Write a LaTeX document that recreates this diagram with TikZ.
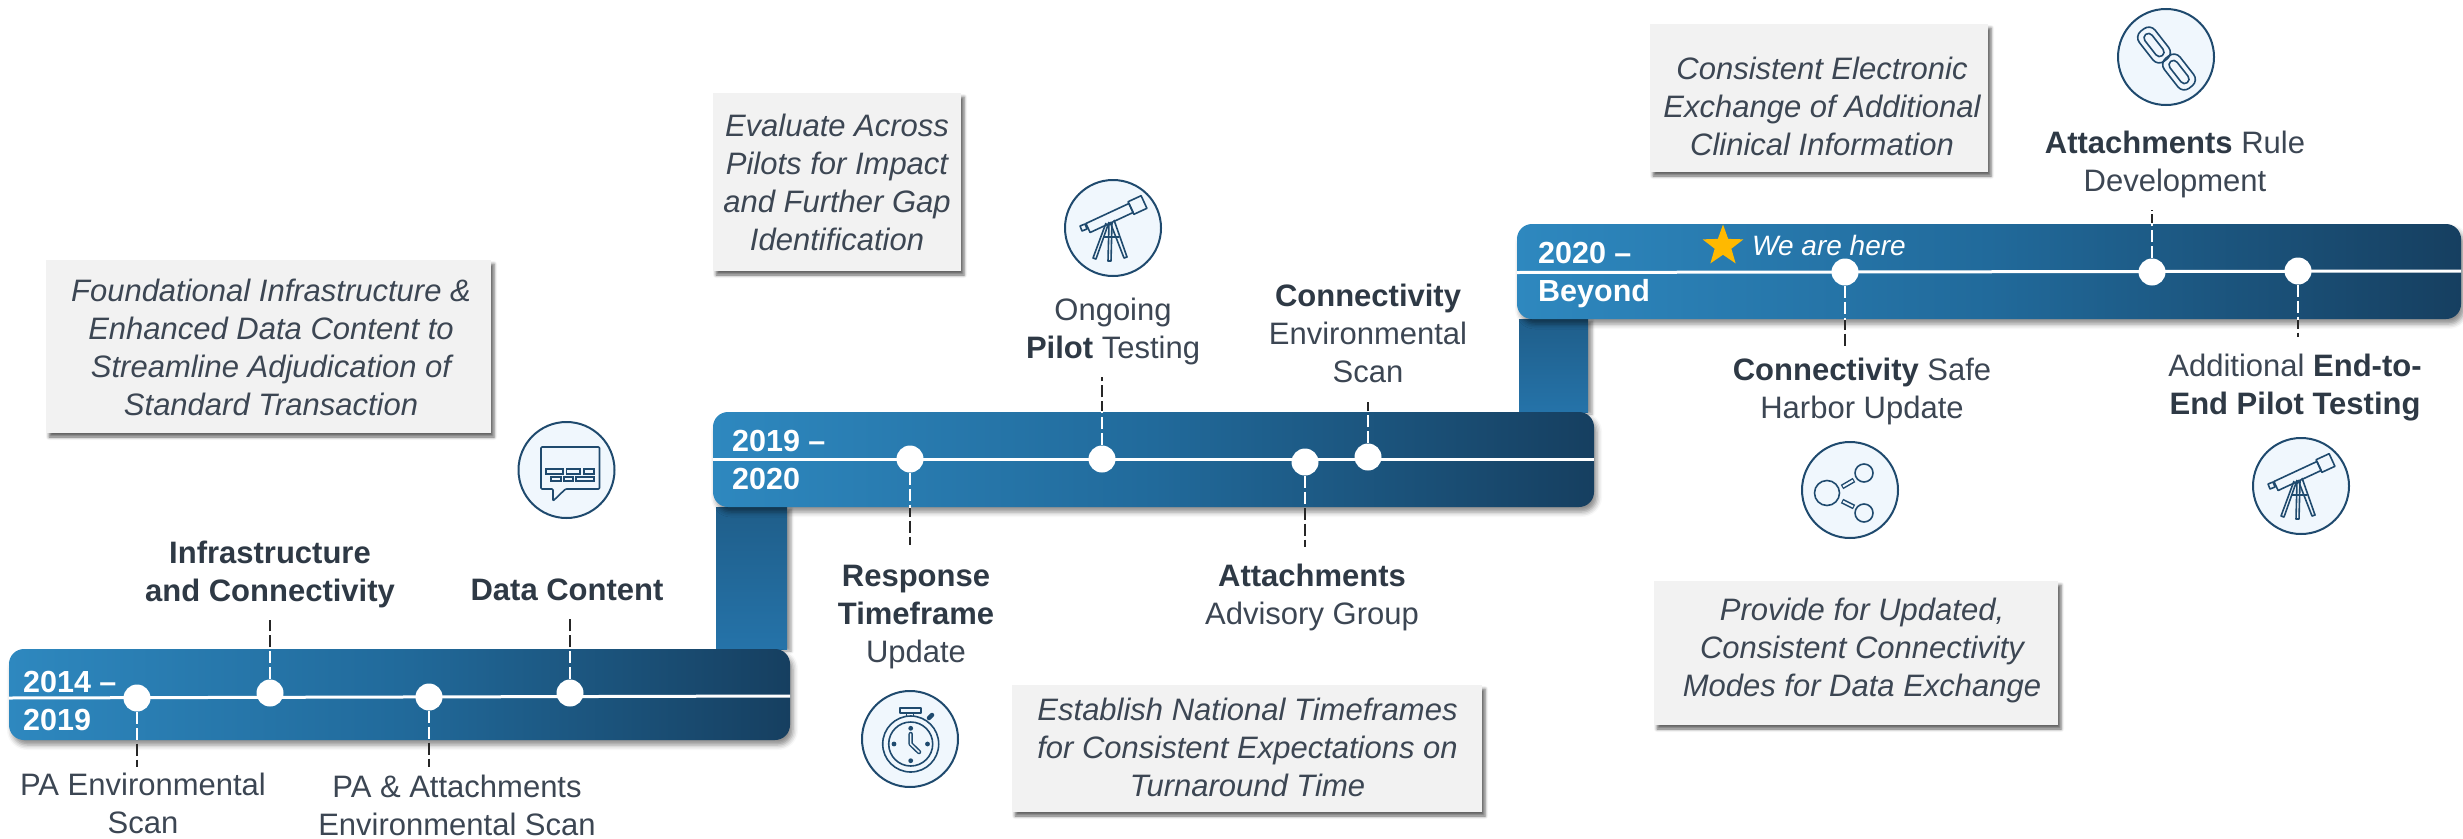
\documentclass[tikz,border=0pt]{standalone}
\usepackage{fontspec}
\setmainfont{Liberation Sans}
\usetikzlibrary{shadows.blur,shapes.geometric,calc}
\definecolor{txt}{HTML}{3C4653}
\definecolor{txtb}{HTML}{2E3945}
\definecolor{ink}{HTML}{1F4A6E}
\definecolor{iconfill}{HTML}{F0F7FD}
\definecolor{bandL}{HTML}{2E88BF}
\definecolor{bandM}{HTML}{216A9B}
\definecolor{bandR}{HTML}{163F60}
\definecolor{riserT}{HTML}{1F5E8A}
\definecolor{riserB}{HTML}{2573A9}
\definecolor{boxfill}{HTML}{F2F2F2}
\definecolor{starc}{HTML}{FFB900}
\tikzset{
  x=1pt,y=-1pt,
  band/.style={rectangle,rounded corners=15pt,inner sep=0pt,left color=bandL,right color=bandR,middle color=bandM,
    blur shadow={shadow xshift=3pt,shadow yshift=-5pt,shadow blur radius=5pt,shadow opacity=45}},
  riser/.style={rectangle,inner sep=0pt,top color=riserT,bottom color=riserB,
    blur shadow={shadow xshift=4pt,shadow yshift=-2pt,shadow blur radius=3pt,shadow opacity=40}},
  infobox/.style={rectangle,inner sep=0pt,fill=boxfill,
    blur shadow={shadow xshift=3pt,shadow yshift=-4pt,shadow blur radius=3pt,shadow opacity=60}},
  infotext/.style={inner sep=0pt,align=center,text=txt,font=\fontsize{31}{38}\selectfont\itshape},
  lab/.style={inner sep=0pt,align=center,text=txt,anchor=base,font=\fontsize{31}{38}\selectfont},
  yr/.style={inner sep=0pt,align=left,text=white,anchor=base west,font=\fontsize{30.5}{38}\selectfont\bfseries},
  dot/.style={circle,fill=white,inner sep=0pt,minimum size=27pt},
  whiteline/.style={white,line width=3pt},
  dashblack/.style={black!85,line width=2.2pt,dash pattern=on 12pt off 4pt},
  dashwhite/.style={white,line width=2.2pt,dash pattern=on 12pt off 4pt},
  badge/.style={circle,draw=ink,fill=iconfill,line width=2pt,inner sep=0pt,minimum size=96pt},
  gl/.style={draw=ink,line width=1.6pt,line join=round},
  pics/iconScope/.style={code={
    \draw[gl] (-22.9,4.5)--(-27.1,-4.5)--(15.9,-24.5)--(20.1,-15.5)--cycle;
    \draw[gl] (20.9,-13.7)--(15.1,-26.3)--(28.1,-32.3)--(33.9,-19.7)--cycle;
    \draw[gl] (-33,-2)--(-28,-4)--(-26,1)--(-31,3)--cycle;
    \draw[gl] (-7,-5)--(-20,30)--(-17,31)--(-4,-6);
    \draw[gl] (-3,-6)--(11,30)--(14,29)--(1,-8);
    \draw[gl] (-4,-5)--(-5,33)--(-2,33)--(-1,-6);
    \draw[gl] (-10,9)--(6,9);
  }},
  pics/iconWatch/.style={code={
    \draw[gl] (.7,5) circle[radius=28];
    \draw[gl] (.7,5) circle[radius=22];
    \draw[gl] (-10,-31) rectangle (11,-26);
    \draw[gl] (-3.5,-26)--(-3.5,-22);
    \draw[gl] (3.5,-26)--(3.5,-22);
    \draw[ink,line width=4.5pt,line cap=round] (19,-21)--(22,-24);
    \fill[ink] (.7,-10.7) circle[radius=2.4] (-16,5) circle[radius=2.4] (17.5,5) circle[radius=2.4] (.7,21.7) circle[radius=2.4];
    \draw[ink,line width=4.5pt,line join=round,line cap=round] (.7,-5)--(.7,5)--(9,13);
    \draw[iconfill,line width=1.5pt,line join=round,line cap=round] (.7,-5)--(.7,5)--(9,13);
  }},
  pics/iconLink/.style={code={
    \draw[gl,rounded corners=8pt] (-19,-10) rectangle (19,10);
    \draw[gl,rounded corners=4.5pt] (-13.5,-4.5) rectangle (13.5,4.5);
  }},
  pics/iconShare/.style={code={
    \draw[gl] (-23,3) circle[radius=12.5];
    \draw[gl] (14,-17) circle[radius=9];
    \draw[gl] (14,23) circle[radius=9];
    \draw[ink,line width=5pt] (-8,-3)--(4,-10);
    \draw[iconfill,line width=2pt] (-7,-3.6)--(3,-9.4);
    \draw[ink,line width=5pt] (-8,11)--(4,17);
    \draw[iconfill,line width=2pt] (-7,11.5)--(3,16.5);
  }},
  pics/iconChat/.style={code={
    \draw[gl,rounded corners=1pt] (-25.5,-23)--(33,-23)--(33,19)--(-1,19)--(-13.5,31)--(-13.5,19)--(-25.5,19)--cycle;
    \foreach \a/\b in {-20.5/-3.5,0/13.5,17.5/27.5}{\draw[ink,line width=1.2pt] (\a,-1) rectangle (\b,4);}
    \foreach \a/\b in {-15.5/-5.5,-2.5/6.5,9.5/27.5}{\draw[ink,line width=1.2pt] (\a,7) rectangle (\b,11);}
  }},
}
\begin{document}
\begin{tikzpicture}
\useasboundingbox (0,0) rectangle (2463,838);

% risers
\node[riser,minimum width=71pt,minimum height=142pt] (r1) at (751.5,578) {};
\node[riser,minimum width=69pt,minimum height=93pt] (r2) at (1553.5,365.5) {};

% info boxes
\node[infobox,minimum width=445pt,minimum height=173pt] (boxA) at (268.5,346.5) {};
\node[infobox,minimum width=248pt,minimum height=178pt] (boxB) at (837,182) {};
\node[infobox,minimum width=470pt,minimum height=127pt] (boxC) at (1247,748.5) {};
\node[infobox,minimum width=338pt,minimum height=148pt] (boxD) at (1819,98) {};
\node[infobox,minimum width=404pt,minimum height=144pt] (boxE) at (1856,653) {};
\node[infotext] (tA) at (271,347) {Foundational Infrastructure \&\\Enhanced Data Content to\\Streamline Adjudication of\\Standard Transaction};
\node[infotext] (tB) at (837,182) {Evaluate Across\\Pilots for Impact\\and Further Gap\\Identification};
\node[infotext] (tC) at (1247.5,747) {Establish National Timeframes\\for Consistent Expectations on\\Turnaround Time};
\node[infotext] (tD) at (1822,106) {Consistent Electronic\\Exchange of Additional\\Clinical Information};
\node[infotext] (tE) at (1862,650) {Provide for Updated,\\Consistent Connectivity\\Modes for Data Exchange};

% bands
\node[band,minimum width=781pt,minimum height=91pt] (b1) at (399.5,694.5) {};
\node[band,minimum width=881pt,minimum height=95pt] (b2) at (1153.5,459.5) {};
\node[band,minimum width=944pt,minimum height=95pt] (b3) at (1989,271.5) {};

% timeline dots
\node[dot] (d1) at (137,698) {};
\node[dot] (d2) at (270,693) {};
\node[dot] (d3) at (429,697) {};
\node[dot] (d4) at (570,693) {};
\node[dot] (d5) at (910,459) {};
\node[dot] (d6) at (1102,459) {};
\node[dot] (d7) at (1305,462) {};
\node[dot] (d8) at (1368,457) {};
\node[dot] (d9) at (1845,272) {};
\node[dot] (d10) at (2152,272) {};
\node[dot] (d11) at (2298,271) {};

% free ends of the connectors
\coordinate (e1) at (137,767);
\coordinate (e2) at (270,620);
\coordinate (e3) at (429,767);
\coordinate (e4) at (570,619);
\coordinate (e5) at (910,545);
\coordinate (e6) at (1102,377);
\coordinate (e7) at (1305,547);
\coordinate (e8) at (1368,402);
\coordinate (e9) at (1845,349);
\coordinate (e10) at (2152,210);
\coordinate (e11) at (2298,337);

% connectors: black outside the band, white over it
\foreach \i in {1,...,11}{\draw[dashblack] (d\i) -- (e\i);}
\begin{scope}
  \clip (b1.south west) rectangle (b1.north east);
  \foreach \i in {1,...,4}{\draw[dashwhite] (d\i) -- (e\i);}
\end{scope}
\begin{scope}
  \clip (b2.south west) rectangle (b2.north east);
  \foreach \i in {5,...,8}{\draw[dashwhite] (d\i) -- (e\i);}
\end{scope}
\begin{scope}
  \clip (b3.south west) rectangle (b3.north east);
  \foreach \i in {9,10,11}{\draw[dashwhite] (d\i) -- (e\i);}
\end{scope}

% white lines along the bands
\draw[whiteline] (b1.west |- 0,698) -- (b1.east |- 0,696);
\draw[whiteline] (b2.west |- 0,459) -- (b2.east |- 0,459);
\draw[whiteline] (b3.west |- 0,272.5) -- (b3.east |- 0,271);

% year labels
\node[yr] (y1a) at (23,692) {2014 –};
\node[yr] (y1b) at (23,730) {2019};
\node[yr] (y2a) at (732,451) {2019 –};
\node[yr] (y2b) at (732,489) {2020};
\node[yr] (y3a) at (1538,263) {2020 –};
\node[yr] (y3b) at (1538,301) {Beyond};

\node[star,star points=5,star point ratio=2.45,fill=starc,inner sep=0pt,minimum size=43pt] (star) at (1723,246) {};
\node[inner sep=0pt,anchor=base west,text=white,font=\fontsize{28}{34}\selectfont\itshape] (here) at (1752,255) {We are here};

% milestone labels (anchored at the baseline of the last line)
\node[lab] (l2) at (270,601) {\textbf{\color{txtb}Infrastructure}\\\textbf{\color{txtb}and Connectivity}};
\node[lab] (l4) at (567,600) {\textbf{\color{txtb}Data Content}};
\node[lab] (l1) at (143,833) {PA Environmental\\Scan};
\node[lab] (l3) at (457,835) {PA \& Attachments\\Environmental Scan};
\node[lab] (l5) at (916,662) {\textbf{\color{txtb}Response}\\\textbf{\color{txtb}Timeframe}\\Update};
\node[lab] (l7) at (1312,624) {\textbf{\color{txtb}Attachments}\\Advisory Group};
\node[lab] (l6) at (1113,358) {Ongoing\\\textbf{\color{txtb}Pilot} Testing};
\node[lab] (l8) at (1368,382) {\textbf{\color{txtb}Connectivity}\\Environmental\\Scan};
\node[lab] (l10) at (2175,191) {\textbf{\color{txtb}Attachments} Rule\\Development};
\node[lab] (l9) at (1862,418) {\textbf{\color{txtb}Connectivity} Safe\\Harbor Update};
\node[lab] (l11) at (2295,414) {Additional \textbf{\color{txtb}End-to-}\\\textbf{\color{txtb}End Pilot Testing}};

% icons
\node[badge] (i1) at (566.5,470) {};
\pic at (i1.center) {iconChat};
\node[badge] (i2) at (1113,228) {};
\pic at (i2.center) {iconScope};
\node[badge] (i3) at (910,739) {};
\pic at (i3.center) {iconWatch};
\node[badge] (i4) at (2166,57) {};
\pic[rotate=-52] at (2154,45) {iconLink};
\pic[rotate=-52] at (2179,72) {iconLink};
\node[badge] (i5) at (1850,490) {};
\pic at (i5.center) {iconShare};
\node[badge] (i6) at (2301,486) {};
\pic at (i6.center) {iconScope};
\end{tikzpicture}
\end{document}
